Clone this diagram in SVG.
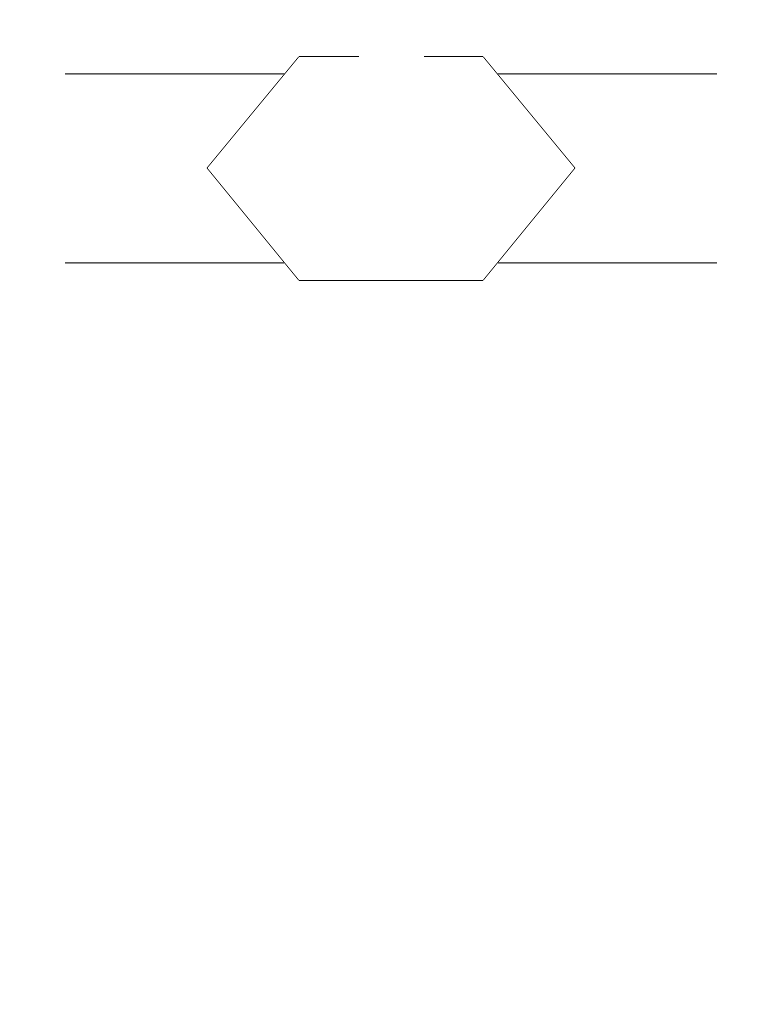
<svg xmlns="http://www.w3.org/2000/svg" width="782" height="1012" viewBox="0 0 782 1012">
  <style>
    .ln { fill: none; stroke: #000; stroke-width: 1; }
    .hl { fill: none; stroke: #222; stroke-width: 1.2; }
  </style>
  <rect width="782" height="1012" fill="#fff"/>
  <g id="hexagon">
    <path class="ln" d="M359,56.5 L299,56.5 L207,168 L299,280.5 L483,280.5 L575,168 L483,56.5 L424,56.5"/>
  </g>
  <g id="connectors">
    <line class="hl" x1="65" y1="73.8" x2="284.5" y2="73.8"/>
    <line class="hl" x1="497.5" y1="73.8" x2="717" y2="73.8"/>
    <line class="hl" x1="65" y1="262.8" x2="284" y2="262.8"/>
    <line class="hl" x1="498" y1="262.8" x2="717" y2="262.8"/>
  </g>
</svg>
